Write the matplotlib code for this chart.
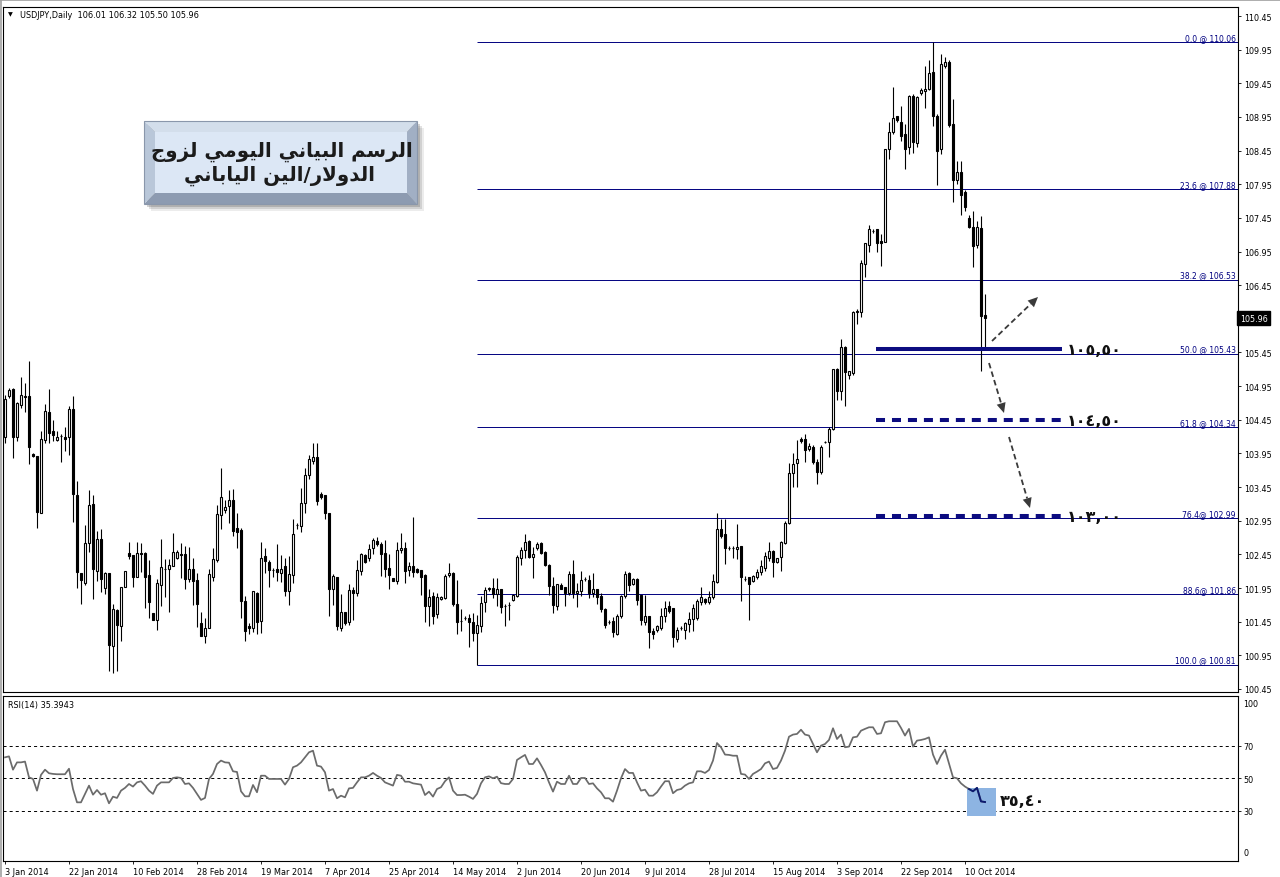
import matplotlib
matplotlib.use("Agg")
import matplotlib.pyplot as plt
from matplotlib.patches import Rectangle, Polygon
import numpy as np

plt.rcParams['lines.scale_dashes'] = False
plt.rcParams['font.family'] = ['DejaVu Sans']

# ---------------- data ----------------
opens = [
    104.20, 104.80, 104.91, 104.20, 104.67, 104.80, 104.80, 103.94, 103.91, 103.07,
    104.15, 104.57, 104.28, 104.15, 104.21, 104.20, 104.19, 104.61, 103.33, 102.17,
    102.02, 102.62, 103.20, 102.21, 102.68, 101.95, 102.18, 101.09, 101.62, 101.39,
    101.97, 102.47, 102.44, 102.11, 102.47, 102.47, 102.14, 101.58, 101.48, 102.00,
    102.24, 102.23, 102.27, 102.40, 102.46, 102.46, 102.08, 102.24, 102.07, 101.43,
    101.24, 101.36, 102.12, 102.37, 103.03, 103.11, 103.17, 103.26, 102.84, 102.81,
    101.75, 101.39, 101.35, 101.88, 101.46, 102.42, 102.34, 102.22, 102.23, 102.17,
    102.27, 101.91, 102.15, 102.89, 102.87, 103.22, 103.63, 103.84, 103.90, 103.34,
    103.33, 103.06, 101.94, 102.11, 101.36, 101.60, 101.45, 101.92, 101.87, 102.21,
    102.44, 102.40, 102.54, 102.65, 102.61, 102.47, 102.25, 102.10, 102.06, 102.51,
    102.55, 102.22, 102.27, 102.24, 102.22, 102.14, 101.69, 101.83, 101.57, 101.78,
    101.80, 102.14, 102.18, 101.72, 101.46, 101.51, 101.50, 101.45, 101.28, 101.38,
    101.74, 101.93, 101.95, 101.86, 101.94, 101.68, 101.70, 101.77, 101.83, 102.40,
    102.52, 102.65, 102.41, 102.54, 102.62, 102.48, 102.29, 101.98, 101.69, 102.00,
    101.96, 101.87, 102.16, 101.87, 101.90, 102.08, 102.07, 101.88, 101.93, 101.83,
    101.64, 101.45, 101.46, 101.26, 101.54, 101.83, 102.17, 102.01, 102.09, 101.84,
    101.45, 101.53, 101.31, 101.32, 101.36, 101.54, 101.68, 101.66, 101.20, 101.35,
    101.33, 101.42, 101.49, 101.51, 101.74, 101.79, 101.74, 101.81, 102.04, 102.82,
    102.75, 102.55, 102.54, 102.53, 102.58, 102.09, 102.11, 102.06, 102.12, 102.19,
    102.25, 102.39, 102.50, 102.34, 102.41, 102.62, 102.92, 103.66, 103.81, 104.17,
    104.16, 104.01, 104.05, 103.83, 103.67, 104.12, 104.12, 104.32, 105.20, 104.88,
    105.53, 105.11, 105.15, 106.05, 106.05, 106.77, 107.04, 107.25, 107.28, 107.10,
    107.09, 108.48, 108.72, 108.96, 108.88, 108.70, 108.50, 109.26, 108.57, 109.30,
    109.33, 109.37, 109.62, 108.96, 108.47, 109.70, 109.77, 108.85, 108.01, 108.13,
    107.83, 107.45, 107.31, 107.04, 107.30, 106.01]

highs = [
    104.82, 104.92, 104.92, 104.72, 105.09, 105.00, 105.32, 103.95, 103.91, 104.29,
    104.68, 104.91, 104.44, 104.29, 104.24, 104.34, 104.65, 104.81, 103.54, 102.17,
    102.89, 103.40, 103.33, 102.80, 102.83, 102.19, 102.18, 101.71, 101.64, 101.97,
    102.21, 102.64, 102.44, 102.64, 102.62, 102.48, 102.36, 101.58, 102.09, 102.68,
    102.38, 102.38, 102.77, 102.52, 102.62, 102.57, 102.56, 102.39, 102.18, 101.60,
    101.51, 102.23, 102.55, 103.18, 103.74, 103.26, 103.40, 103.42, 103.06, 102.84,
    101.83, 101.43, 101.91, 101.89, 102.64, 102.54, 102.36, 102.25, 102.60, 102.44,
    102.40, 102.43, 102.97, 102.92, 103.43, 103.73, 103.92, 104.10, 104.11, 103.38,
    103.33, 103.06, 102.16, 102.12, 101.86, 101.60, 102.01, 101.96, 102.36, 102.47,
    102.45, 102.60, 102.69, 102.71, 102.64, 102.67, 102.45, 102.10, 102.63, 102.77,
    102.63, 102.34, 103.01, 102.25, 102.22, 102.16, 101.93, 101.89, 101.88, 101.83,
    102.16, 102.32, 102.19, 102.07, 101.64, 101.54, 101.56, 101.58, 101.55, 101.83,
    101.97, 101.96, 102.10, 102.10, 101.94, 101.72, 101.74, 101.86, 102.44, 102.56,
    102.76, 102.67, 102.56, 102.63, 102.63, 102.50, 102.30, 102.11, 102.01, 102.02,
    101.97, 102.21, 102.36, 102.03, 102.20, 102.11, 102.14, 102.18, 101.94, 101.87,
    101.65, 101.48, 101.52, 101.57, 101.85, 102.21, 102.19, 102.10, 102.10, 101.85,
    101.85, 101.54, 101.35, 101.40, 101.66, 101.75, 101.76, 101.66, 101.37, 101.38,
    101.45, 101.59, 101.71, 101.79, 101.96, 101.80, 101.91, 102.16, 103.06, 102.97,
    102.98, 102.58, 102.57, 102.90, 102.58, 102.13, 102.11, 102.14, 102.24, 102.36,
    102.49, 102.64, 102.52, 102.40, 102.65, 102.95, 103.81, 103.96, 104.15, 104.20,
    104.24, 104.10, 104.08, 103.87, 104.07, 104.14, 104.35, 105.21, 105.22, 105.65,
    105.54, 105.18, 106.06, 106.10, 106.82, 107.08, 107.35, 107.28, 107.29, 107.21,
    108.48, 108.87, 109.39, 108.97, 109.12, 108.85, 109.27, 109.29, 109.26, 109.38,
    109.70, 109.80, 110.06, 108.99, 109.89, 109.84, 109.80, 109.22, 108.30, 108.29,
    107.86, 107.50, 107.55, 107.40, 107.48, 106.32]

lows = [
    104.10, 104.78, 103.88, 104.14, 104.63, 104.56, 103.80, 103.90, 102.84, 103.07,
    104.11, 104.10, 104.14, 104.14, 103.82, 103.98, 103.92, 102.93, 101.95, 101.71,
    101.99, 102.48, 101.78, 102.05, 101.89, 101.86, 100.71, 100.68, 100.72, 101.17,
    101.97, 102.38, 101.97, 102.11, 102.19, 101.66, 101.51, 101.48, 101.32, 101.69,
    101.81, 101.60, 102.27, 102.38, 102.10, 101.93, 102.04, 101.70, 101.37, 101.23,
    101.14, 101.36, 102.06, 102.34, 102.83, 103.07, 102.92, 102.73, 102.54, 101.51,
    101.17, 101.26, 101.29, 101.26, 101.28, 102.17, 101.97, 102.11, 102.06, 102.04,
    101.83, 101.70, 102.02, 102.82, 102.79, 103.07, 103.57, 103.79, 103.18, 103.27,
    102.98, 101.54, 101.70, 101.33, 101.31, 101.40, 101.40, 101.47, 101.83, 102.15,
    102.32, 102.35, 102.46, 102.58, 102.13, 102.12, 101.94, 102.06, 102.01, 102.47,
    102.02, 102.13, 102.12, 102.18, 101.84, 101.45, 101.39, 101.41, 101.51, 101.77,
    101.78, 102.12, 101.68, 101.27, 101.31, 101.48, 101.07, 101.17, 100.81, 101.30,
    101.60, 101.90, 101.80, 101.68, 101.58, 101.39, 101.48, 101.75, 101.82, 102.29,
    102.40, 102.39, 102.10, 102.52, 102.45, 102.27, 101.84, 101.58, 101.62, 101.93,
    101.69, 101.85, 101.80, 101.67, 101.83, 102.05, 101.80, 101.82, 101.72, 101.60,
    101.35, 101.42, 101.22, 101.25, 101.50, 101.80, 101.90, 101.99, 101.70, 101.40,
    101.40, 101.06, 101.20, 101.30, 101.33, 101.44, 101.58, 101.08, 101.15, 101.33,
    101.19, 101.29, 101.31, 101.48, 101.70, 101.72, 101.72, 101.79, 102.02, 102.70,
    102.30, 102.52, 102.40, 102.38, 101.75, 102.05, 101.48, 102.04, 102.08, 102.15,
    102.20, 102.35, 102.11, 102.32, 102.21, 102.60, 102.90, 103.45, 103.45, 104.10,
    103.82, 103.98, 103.80, 103.50, 103.65, 104.10, 103.90, 104.30, 104.74, 104.74,
    104.65, 105.06, 105.12, 105.88, 105.98, 106.57, 106.94, 107.22, 106.94, 106.74,
    107.09, 108.33, 108.70, 108.88, 108.60, 108.17, 108.40, 108.42, 108.50, 109.28,
    109.08, 109.35, 108.81, 107.94, 108.40, 109.68, 108.80, 107.69, 107.95, 107.50,
    107.55, 107.30, 106.72, 107.00, 105.17, 105.50]

closes = [
    104.76, 104.90, 104.19, 104.70, 104.82, 104.79, 104.04, 103.91, 103.08, 104.16,
    104.58, 104.25, 104.23, 104.20, 104.21, 104.17, 104.61, 103.34, 102.19, 102.07,
    102.62, 103.18, 102.24, 102.68, 102.09, 102.18, 101.11, 101.64, 101.40, 101.97,
    102.21, 102.43, 102.11, 102.47, 102.45, 102.12, 101.74, 101.48, 102.02, 102.26,
    102.24, 102.29, 102.49, 102.48, 102.44, 102.08, 102.24, 102.06, 101.71, 101.23,
    101.36, 102.16, 102.38, 103.05, 103.30, 103.16, 103.26, 102.80, 102.79, 101.75,
    101.31, 101.35, 101.90, 101.45, 102.40, 102.35, 102.22, 102.22, 102.19, 102.24,
    101.91, 102.16, 102.76, 102.89, 103.21, 103.63, 103.87, 103.89, 103.25, 103.31,
    103.07, 101.94, 102.13, 101.39, 101.60, 101.43, 101.92, 101.87, 102.22, 102.45,
    102.34, 102.53, 102.66, 102.61, 102.46, 102.24, 102.14, 102.06, 102.51, 102.55,
    102.21, 102.27, 102.19, 102.19, 102.12, 101.69, 101.82, 101.54, 101.81, 101.82,
    102.13, 102.18, 101.72, 101.45, 101.46, 101.51, 101.44, 101.28, 101.40, 101.73,
    101.92, 101.95, 101.86, 101.94, 101.67, 101.68, 101.70, 101.85, 102.41, 102.51,
    102.63, 102.41, 102.45, 102.61, 102.47, 102.29, 101.98, 101.70, 102.01, 101.94,
    101.87, 102.16, 101.87, 101.90, 102.07, 102.08, 101.88, 101.93, 101.82, 101.64,
    101.40, 101.45, 101.29, 101.54, 101.83, 102.16, 102.00, 102.08, 101.77, 101.47,
    101.53, 101.30, 101.26, 101.38, 101.54, 101.66, 101.61, 101.22, 101.33, 101.35,
    101.43, 101.49, 101.66, 101.76, 101.81, 101.74, 101.82, 102.06, 102.83, 102.73,
    102.55, 102.55, 102.54, 102.56, 102.11, 102.09, 102.01, 102.13, 102.19, 102.27,
    102.42, 102.50, 102.33, 102.39, 102.64, 102.92, 103.66, 103.80, 103.86, 104.13,
    104.00, 104.06, 103.83, 103.67, 104.05, 104.12, 104.32, 105.20, 104.88, 105.53,
    105.16, 105.17, 106.05, 106.06, 106.78, 107.07, 107.29, 107.25, 107.08, 107.08,
    108.48, 108.73, 108.93, 108.90, 108.67, 108.47, 109.26, 108.58, 109.24, 109.35,
    109.37, 109.61, 108.96, 108.45, 109.74, 109.77, 108.83, 108.01, 108.13, 107.79,
    107.61, 107.32, 107.03, 107.31, 105.99, 105.96]

rsi_values = [
    62.9, 63.5, 55.3, 59.8, 59.8, 60.3, 50.6, 49.6, 42.4, 52.1,
    55.3, 53.1, 52.7, 52.5, 52.5, 52.5, 55.9, 43.4, 35.2, 35.2,
    40.4, 45.5, 39.9, 42.8, 39.9, 40.8, 34.6, 38.7, 37.9, 42.4,
    44.1, 46.5, 44.9, 47.5, 48.2, 45.5, 42.4, 40.4, 45.5, 47.5,
    47.5, 47.5, 50.2, 50.6, 50.2, 46.5, 46.9, 44.1, 40.4, 36.7,
    37.9, 49.6, 52.7, 58.8, 60.9, 59.8, 59.6, 54.3, 53.9, 42.0,
    38.9, 38.9, 45.9, 41.4, 51.6, 51.6, 49.6, 49.6, 49.6, 49.6,
    46.1, 49.6, 56.8, 57.8, 59.8, 62.9, 66.0, 67.0, 57.8, 57.2,
    53.7, 42.4, 43.4, 37.7, 39.3, 38.3, 43.8, 44.1, 47.5, 50.6,
    50.6, 51.6, 53.3, 51.6, 50.2, 47.5, 46.5, 45.5, 52.1, 51.6,
    47.9, 47.9, 46.9, 46.5, 46.1, 39.7, 41.8, 38.7, 43.4, 44.5,
    48.2, 50.6, 42.4, 39.7, 39.7, 39.9, 38.7, 37.3, 40.4, 46.9,
    50.6, 51.2, 50.0, 51.0, 47.0, 46.5, 46.5, 49.6, 61.3, 62.9,
    64.4, 58.8, 58.8, 62.3, 58.2, 53.7, 47.5, 41.8, 47.9, 46.5,
    46.5, 51.6, 46.5, 46.5, 50.2, 50.2, 46.5, 46.9, 43.8, 41.4,
    37.7, 37.7, 35.6, 42.4, 50.0, 55.7, 53.3, 53.3, 47.5, 42.4,
    43.0, 39.3, 39.3, 41.4, 44.9, 48.2, 48.2, 40.8, 42.8, 43.4,
    45.5, 46.9, 47.5, 54.3, 54.3, 53.3, 55.1, 60.9, 71.7, 69.1,
    64.6, 64.4, 63.9, 63.9, 52.7, 52.3, 49.6, 52.7, 54.1, 55.7,
    59.2, 60.3, 55.7, 56.4, 60.9, 67.0, 75.6, 76.9, 77.3, 79.9,
    76.9, 76.3, 71.1, 66.0, 70.1, 71.1, 73.6, 80.8, 74.2, 76.9,
    69.1, 69.5, 75.2, 75.6, 79.3, 80.4, 81.4, 81.4, 77.3, 77.7,
    84.5, 85.1, 85.1, 85.1, 81.0, 76.3, 80.4, 69.5, 73.2, 73.6,
    74.2, 75.2, 64.6, 58.8, 63.9, 67.6, 59.2, 50.6, 50.0, 46.9,
    44.9, 43.4, 42.0, 44.1, 35.8, 35.39]

date_labels = ["3 Jan 2014", "22 Jan 2014", "10 Feb 2014", "28 Feb 2014",
               "19 Mar 2014", "7 Apr 2014", "25 Apr 2014", "14 May 2014",
               "2 Jun 2014", "20 Jun 2014", "9 Jul 2014", "28 Jul 2014",
               "15 Aug 2014", "3 Sep 2014", "22 Sep 2014", "10 Oct 2014"]
date_label_bars = [0, 16, 32, 48, 64, 80, 96, 112, 128, 144, 160, 176, 192, 208, 224, 240]

price_ticks = [100.45, 100.95, 101.45, 101.95, 102.45, 102.95, 103.45, 103.95,
               104.45, 104.95, 105.45, 105.95, 106.45, 106.95, 107.45, 107.95,
               108.45, 108.95, 109.45, 109.95, 110.45]

fib_levels = [110.06, 107.88, 106.53, 105.43, 104.34, 102.99, 101.86, 100.81]
fib_labels = ["0.0 @ 110.06", "23.6 @ 107.88", "38.2 @ 106.53", "50.0 @ 105.43",
              "61.8 @ 104.34", "76.4@ 102.99", "88.6@ 101.86", "100.0 @ 100.81"]
fib_start_bar = 118

target_levels = [105.50, 104.44, 103.02]
target_labels = ["\u0661\u0660\u0665,\u0665\u0660",
                 "\u0661\u0660\u0664,\u0665\u0660",
                 "\u0661\u0660\u0663,\u0660\u0660"]
target_dashed = [False, True, True]

last_price = 105.96
header_text = "USDJPY,Daily  106.01 106.32 105.50 105.96"
rsi_header = "RSI(14) 35.3943"
rsi_value_label = "\u0663\u0665,\u0664\u0660"
rsi_levels = [70, 50, 30]

title_line1 = "الرسم البياني اليومي لزوج"
title_line2 = "الدولار/الين الياباني"

# ---------------- Arabic shaping (presentation forms, visual order) ----------------
FORMS = {
    '\u0627': ('\uFE8D', '\uFE8E', None, None),
    '\u0628': ('\uFE8F', '\uFE90', '\uFE91', '\uFE92'),
    '\u062C': ('\uFE9D', '\uFE9E', '\uFE9F', '\uFEA0'),
    '\u062F': ('\uFEA9', '\uFEAA', None, None),
    '\u0631': ('\uFEAD', '\uFEAE', None, None),
    '\u0632': ('\uFEAF', '\uFEB0', None, None),
    '\u0633': ('\uFEB1', '\uFEB2', '\uFEB3', '\uFEB4'),
    '\u0644': ('\uFEDD', '\uFEDE', '\uFEDF', '\uFEE0'),
    '\u0645': ('\uFEE1', '\uFEE2', '\uFEE3', '\uFEE4'),
    '\u0646': ('\uFEE5', '\uFEE6', '\uFEE7', '\uFEE8'),
    '\u0648': ('\uFEED', '\uFEEE', None, None),
    '\u064A': ('\uFEF1', '\uFEF2', '\uFEF3', '\uFEF4'),
}


def shape(text):
    res = []
    prev_can = False
    i = 0
    while i < len(text):
        ch = text[i]
        if ch not in FORMS:
            res.append(ch)
            prev_can = False
            i += 1
            continue
        if ch == '\u0644' and i + 1 < len(text) and text[i + 1] == '\u0627':
            res.append('\uFEFC' if prev_can else '\uFEFB')
            prev_can = False
            i += 2
            continue
        nxt = text[i + 1] if i + 1 < len(text) else ''
        iso, fin, ini, med = FORMS[ch]
        can_next = ini is not None and nxt in FORMS
        if prev_can and can_next:
            g = med
        elif prev_can:
            g = fin
        elif can_next:
            g = ini
        else:
            g = iso
        res.append(g)
        prev_can = ini is not None
        i += 1
    return ''.join(reversed(res))


# ---------------- figure ----------------
W, H, DPI = 1280, 878, 100
fig = plt.figure(figsize=(W / DPI, H / DPI), dpi=DPI, facecolor='white')


def px_axes(x0, y0, x1, y1, **kw):
    return fig.add_axes([x0 / W, 1 - y1 / H, (x1 - x0) / W, (y1 - y0) / H], **kw)


ax = px_axes(3, 8, 1238, 693)
rax = px_axes(3, 697, 1238, 862)
XMIN, XMAX = -0.5, 308.25

bars = np.arange(len(opens))
o = np.array(opens)
c = np.array(closes)
hi = np.array(highs)
lo = np.array(lows)
up = c >= o

ax.vlines(bars, lo, hi, color='black', lw=0.8, zorder=2)
ax.bar(bars[up], (c - o)[up], bottom=o[up], width=0.58, color='white',
       edgecolor='black', linewidth=0.8, zorder=3)
ax.bar(bars[~up], (o - c)[~up], bottom=c[~up], width=0.58, color='black',
       edgecolor='black', linewidth=0.8, zorder=3)

# fibonacci levels
ax.hlines(fib_levels, fib_start_bar, XMAX, color='#000080', lw=0.7, zorder=1)
for lvl, lab in zip(fib_levels, fib_labels):
    ax.annotate(lab, xy=(1, lvl), xycoords=ax.get_yaxis_transform(),
                xytext=(-1.5, 1.6), textcoords='offset points', ha='right',
                va='baseline', fontsize=5.5, color='#000080')

# target levels
for lvl, lab, dashed in zip(target_levels, target_labels, target_dashed):
    ls = (0, (6.5, 5.0)) if dashed else '-'
    ax.plot([217.75, 264.25], [lvl, lvl], color='#0c0c80', lw=2.9, ls=ls,
            solid_capstyle='butt', dash_capstyle='butt', zorder=4)
    ax.text(265.5, lvl, lab, ha='left', va='center', fontsize=11.5,
            fontweight='bold', color='#111111', zorder=5)

ax.set_xlim(XMIN, XMAX)
ax.set_ylim(100.405, 110.584)
ax.set_xticks([])
ax.yaxis.tick_right()
ax.set_yticks(price_ticks)
# the tick label next to the current-price tag is hidden, as in the terminal
ax.set_yticklabels(["" if abs(v - last_price) < 0.05 else f"{v:.2f}" for v in price_ticks])
ax.tick_params(axis='y', direction='out', length=2.2, width=0.6, pad=2,
               labelsize=5.8, colors='black')
for s in ax.spines.values():
    s.set_linewidth(0.8)
    s.set_color('black')

# current price tag
ax.text(1.0015, last_price, f"{last_price:.2f}", transform=ax.get_yaxis_transform(),
        ha='left', va='center', fontsize=5.8, color='white', zorder=6,
        bbox=dict(boxstyle='square,pad=0.35', fc='black', ec='black'))

# ---------------- RSI panel ----------------
for lv in rsi_levels:
    rax.axhline(lv, color='black', lw=0.7, ls=(0, (2.2, 2.2)), zorder=1)
rax.add_patch(Rectangle((240.5, 26.8), 7.25, 17.2, fc='#8db4e2', ec='none', zorder=2))
rax.plot(bars, rsi_values, color='#6b6b6b', lw=1.25, zorder=3)
rax.plot(bars[241:], rsi_values[241:], color='#0b1a70', lw=1.35, zorder=4)
rax.text(248.8, 36.5, rsi_value_label, ha='left', va='center', fontsize=11.5,
         fontweight='bold', color='#111111', zorder=5)

rax.set_xlim(XMIN, XMAX)
rax.set_ylim(-0.9, 100.65)
rax.yaxis.tick_right()
rax.set_yticks(rsi_levels)
rax.set_yticklabels([str(v) for v in rsi_levels])
rax.tick_params(axis='y', direction='out', length=2.2, width=0.6, pad=2,
                labelsize=5.8)
rax.set_xticks(date_label_bars)
rax.set_xticklabels(date_labels)
for lbl in rax.get_xticklabels():
    lbl.set_ha('left')
rax.tick_params(axis='x', direction='out', length=2.5, width=0.6, pad=1.5,
                labelsize=5.9)
for s in rax.spines.values():
    s.set_linewidth(0.8)
    s.set_color('black')
rax.annotate("100", xy=(1, 100), xycoords=rax.get_yaxis_transform(),
             xytext=(3.6, -1.5), textcoords='offset points', ha='left',
             va='top', fontsize=5.8)
rax.annotate("0", xy=(1, 0), xycoords=rax.get_yaxis_transform(),
             xytext=(3.6, 1.5), textcoords='offset points', ha='left',
             va='bottom', fontsize=5.8)

# ---------------- overlay (pixel space) ----------------
ov = fig.add_axes([0, 0, 1, 1], zorder=10)
ov.set_xlim(0, W)
ov.set_ylim(H, 0)
ov.axis('off')
ov.patch.set_alpha(0)

# window frame lines
ov.plot([0.5, 0.5], [0, 878], color='#a0a0a0', lw=1.2)
ov.plot([0, 1280], [1, 1], color='#a0a0a0', lw=1.2)

ov.text(10, 15, "\u25BC", fontsize=4.5, ha='center', va='center')
ov.text(20, 15, header_text, fontsize=5.9, ha='left', va='center')
ov.text(8, 706, rsi_header, fontsize=5.9, ha='left', va='center')

# title box
x0, y0, x1, y1 = 144, 122, 417, 205
ix0, iy0, ix1, iy1 = 155, 133, 407, 194
for k, a in enumerate([0.10, 0.16, 0.24]):
    off = 7 - 2 * k
    ov.add_patch(Rectangle((x0 + off, y0 + off), x1 - x0, y1 - y0,
                           fc='#4a4a4a', ec='none', alpha=a))
ov.add_patch(Polygon([(x0, y0), (x1, y0), (ix1, iy0), (ix0, iy0)], fc='#d3deeb', ec='none'))
ov.add_patch(Polygon([(x0, y1), (x1, y1), (ix1, iy1), (ix0, iy1)], fc='#8d9bb1', ec='none'))
ov.add_patch(Polygon([(x0, y0), (ix0, iy0), (ix0, iy1), (x0, y1)], fc='#b9c7d9', ec='none'))
ov.add_patch(Polygon([(x1, y0), (ix1, iy0), (ix1, iy1), (x1, y1)], fc='#a1afc4', ec='none'))
ov.add_patch(Rectangle((ix0, iy0), ix1 - ix0, iy1 - iy0, fc='#dce7f5', ec='none'))
ov.add_patch(Rectangle((x0, y0), x1 - x0, y1 - y0, fc='none', ec='#8a97ab', lw=0.8))
ov.text(282, 152, shape(title_line1), ha='center', va='center', fontsize=14.2,
        fontweight='bold', color='#1b1b1b')
ov.text(279, 176, shape(title_line2), ha='center', va='center', fontsize=14.2,
        fontweight='bold', color='#1b1b1b')


def dashed_arrow(xs, ys, xe, ye):
    d = np.array([xe - xs, ye - ys], dtype=float)
    L = np.hypot(*d)
    u = d / L
    n = np.array([-u[1], u[0]])
    hl, hw = 10.0, 4.6
    base = np.array([xe, ye]) - u * hl
    ov.plot([xs, base[0]], [ys, base[1]], color='#3a3a3a', lw=1.3,
            ls=(0, (4.0, 2.4)), dash_capstyle='butt')
    ov.add_patch(Polygon([(xe, ye), tuple(base + n * hw), tuple(base - n * hw)],
                         closed=True, fc='#3a3a3a', ec='none'))


dashed_arrow(992, 342, 1038, 298)
dashed_arrow(989, 364, 1004, 414)
dashed_arrow(1009, 438, 1030, 509)

fig.savefig("out.png", dpi=DPI, facecolor='white')
